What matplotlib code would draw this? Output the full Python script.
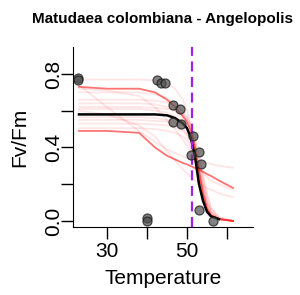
import numpy as np
import matplotlib
matplotlib.use("Agg")
from matplotlib import pyplot as plt

plt.rcParams['font.family'] = ['Liberation Sans', 'DejaVu Sans']

title = "Matudaea colombiana - Angelopolis"

# measured Fv/Fm values
temp = [22.7, 22.7, 42.4, 43.4, 44.4, 40.0, 40.0, 46.5, 48.2, 46.5, 48.5,
        51.5, 51.1, 53.1, 53.5, 53.1, 56.4]
fvfm = [0.78, 0.77, 0.765, 0.75, 0.75, 0.015, 0.0, 0.63, 0.61, 0.54, 0.53,
        0.46, 0.36, 0.375, 0.31, 0.06, 0.0]

# temperature grid the fitted curves were read at
grid = [23, 30, 38, 42, 45, 47, 49, 50, 51, 52, 53, 54, 55, 56, 58, 61.5]

# mean fit (black)
fit_mean = [0.58, 0.58, 0.58, 0.58, 0.575, 0.56, 0.53, 0.505, 0.45, 0.35,
            0.20, 0.11, 0.05, 0.025, 0.01, 0.0]

# bootstrap fits drawn darker
boot_strong = [
    [0.73, 0.72, 0.72, 0.70, 0.66, 0.62, 0.57, 0.54, 0.49, 0.40, 0.27, 0.15,
     0.07, 0.03, 0.01, 0.0],
    [0.49, 0.49, 0.48, 0.40, 0.355, 0.335, 0.315, 0.308, 0.298, 0.288, 0.278,
     0.268, 0.255, 0.245, 0.22, 0.18],
]

# bootstrap fits drawn faint
boot_faint = [
    [0.77, 0.77, 0.77, 0.765, 0.75, 0.72, 0.66, 0.60, 0.52, 0.40, 0.26, 0.14,
     0.06, 0.03, 0.01, 0.0],
    [0.70, 0.70, 0.70, 0.69, 0.67, 0.64, 0.59, 0.55, 0.49, 0.41, 0.30, 0.19,
     0.10, 0.05, 0.01, 0.0],
    [0.66, 0.66, 0.66, 0.655, 0.645, 0.63, 0.60, 0.57, 0.52, 0.44, 0.33, 0.21,
     0.11, 0.05, 0.01, 0.0],
    [0.64, 0.64, 0.64, 0.635, 0.62, 0.60, 0.56, 0.52, 0.46, 0.37, 0.26, 0.15,
     0.07, 0.03, 0.01, 0.0],
    [0.62, 0.62, 0.62, 0.615, 0.61, 0.60, 0.58, 0.56, 0.52, 0.46, 0.37, 0.26,
     0.15, 0.07, 0.02, 0.0],
    [0.61, 0.61, 0.61, 0.60, 0.59, 0.57, 0.54, 0.51, 0.46, 0.39, 0.29, 0.18,
     0.09, 0.04, 0.01, 0.0],
    [0.565, 0.565, 0.565, 0.56, 0.55, 0.54, 0.52, 0.50, 0.47, 0.42, 0.34,
     0.24, 0.14, 0.07, 0.02, 0.0],
    [0.55, 0.55, 0.55, 0.545, 0.54, 0.53, 0.50, 0.47, 0.42, 0.34, 0.24, 0.14,
     0.07, 0.03, 0.01, 0.0],
    [0.53, 0.53, 0.53, 0.525, 0.52, 0.51, 0.49, 0.47, 0.44, 0.38, 0.29, 0.19,
     0.10, 0.05, 0.01, 0.0],
    [0.505, 0.505, 0.505, 0.50, 0.49, 0.48, 0.46, 0.44, 0.40, 0.33, 0.23,
     0.13, 0.06, 0.03, 0.01, 0.0],
    [0.74, 0.62, 0.49, 0.43, 0.39, 0.37, 0.35, 0.34, 0.335, 0.33, 0.325, 0.32,
     0.315, 0.31, 0.30, 0.29],
    [0.60, 0.58, 0.52, 0.46, 0.38, 0.33, 0.28, 0.26, 0.24, 0.22, 0.21, 0.19,
     0.18, 0.17, 0.15, 0.13],
    [0.72, 0.71, 0.68, 0.62, 0.55, 0.50, 0.44, 0.41, 0.37, 0.33, 0.29, 0.26,
     0.24, 0.22, 0.20, 0.17],
]

t50 = 51.3  # dashed purple line

fig = plt.figure(figsize=(3.0, 2.95), dpi=100)
ax = fig.add_axes([73/300, 1-227/295, 180/300, 180/295])

for yv in boot_faint:
    ax.plot(grid, yv, color='red', alpha=0.1, lw=1.3)
for yv in boot_strong:
    ax.plot(grid, yv, color='red', alpha=0.55, lw=1.3)

ax.plot(grid[:15], fit_mean[:15], color='black', lw=1.8)
ax.axvline(t50, color='#a020f0', lw=1.6, ls=(0, (4.5, 2.5)))

ax.scatter(temp, fvfm, s=42, facecolor=(0.3, 0.3, 0.3, 0.7),
           edgecolor=(0.1, 0.1, 0.1, 0.75), lw=0.9, zorder=5)

ax.set_xlim(21.5, 66.5)
ax.set_ylim(-0.033, 0.947)
ax.spines['top'].set_visible(False)
ax.spines['right'].set_visible(False)
ax.set_xticks([30, 40, 50, 60])
ax.set_xticklabels(['30', '', '50', ''])
ax.set_yticks([0.0, 0.2, 0.4, 0.6, 0.8])
ax.set_yticklabels(['0.0', '', '0.4', '', '0.8'], rotation=90, va='center')
ax.tick_params(length=8.5, width=1.0, labelsize=15)
ax.tick_params(axis='x', pad=2)
ax.tick_params(axis='y', pad=-1.5)

ax.set_xlabel('Temperature', fontsize=15, labelpad=6)
ax.set_ylabel('Fv/Fm', fontsize=15)
ax.yaxis.set_label_coords(-0.245, 0.5)
fig.text(163/300, 1-18.5/295, title, ha='center', va='center',
         fontsize=11, fontweight='bold')

fig.savefig('out.png', dpi=100)
